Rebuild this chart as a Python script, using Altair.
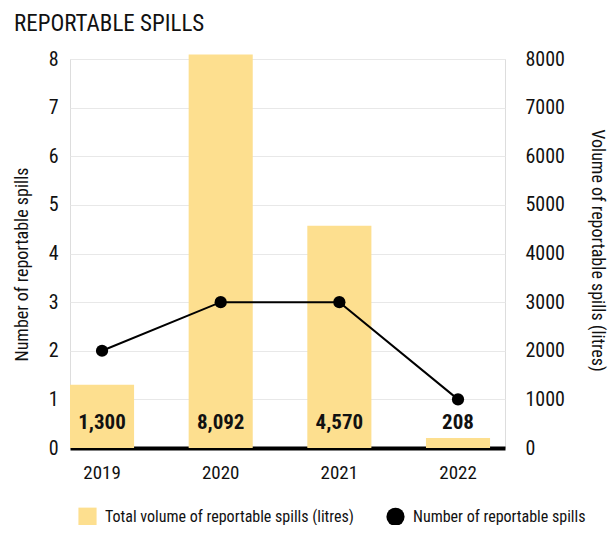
import altair as alt
import pandas as pd

years = ["2019", "2020", "2021", "2022"]
volume = [1300, 8092, 4570, 208]
spills = [2, 3, 3, 1]
series_names = ["Total volume of reportable spills (litres)", "Number of reportable spills"]
left_ticks = [0, 1, 2, 3, 4, 5, 6, 7, 8]
right_ticks = [0, 1000, 2000, 3000, 4000, 5000, 6000, 7000, 8000]

df = pd.DataFrame({
    "year": years,
    "volume": volume,
    "spills": spills,
    "vol_series": series_names[0],
    "cnt_series": series_names[1],
})

FONT = "Roboto Condensed, Liberation Sans Narrow, Arial Narrow, Roboto, sans-serif"
BAR = "#fddf8f"
TXT = "#111111"

W, H = 435, 389

x = alt.X(
    "year:N",
    scale=alt.Scale(paddingInner=0.46, paddingOuter=0.063, align=0),
    axis=alt.Axis(title=None, labelAngle=0, labelFontSize=19, labelPadding=15,
                  ticks=False, domainColor="black", domainWidth=4,
                  labelColor=TXT, labelFont=FONT),
)

color_scale = alt.Scale(domain=series_names, range=[BAR, "black"])
shape_scale = alt.Scale(domain=series_names, range=["square", "circle"])
legend = alt.Legend(title=None, orient="none", legendX=8, legendY=448,
                    direction="horizontal", labelFont=FONT, labelFontSize=16,
                    labelColor=TXT, symbolSize=330, labelOffset=8, labelLimit=400,
                    columnPadding=32, symbolStrokeWidth=0)

bars = alt.Chart(df).mark_bar().encode(
    x=x,
    y=alt.Y("volume:Q", scale=alt.Scale(domain=[0, 8000]),
            axis=alt.Axis(orient="right", title="Volume of reportable spills (litres)",
                          values=right_ticks, format="d", grid=False, ticks=False, domain=False,
                          labelFontSize=20, labelPadding=20, labelColor=TXT, labelFont=FONT,
                          titleFont=FONT, titleFontSize=18, titleFontWeight="normal",
                          titleColor=TXT, titleAngle=90, titleX=91, titleY=191,
                          titleAlign="center", titleBaseline="middle")),
    color=alt.Color("vol_series:N", scale=color_scale, legend=legend),
)

labels = alt.Chart(df).mark_text(font=FONT, fontSize=21, fontWeight="bold",
                                 color=TXT, baseline="middle").encode(
    x=x,
    y=alt.value(364),
    text=alt.Text("volume:Q", format=","),
)

bar_layer = alt.layer(bars, labels)

left_y = alt.Y("spills:Q", scale=alt.Scale(domain=[0, 8]),
               axis=alt.Axis(orient="left", title="Number of reportable spills",
                             values=left_ticks, grid=True, gridColor="#e8e8e8", gridWidth=1.2,
                             ticks=False, domain=False, labelFontSize=20, labelPadding=12,
                             labelColor=TXT, labelFont=FONT, titleFont=FONT,
                             titleFontSize=18, titleFontWeight="normal", titleColor=TXT,
                             titleAngle=270, titleX=-48, titleY=205,
                             titleAlign="center", titleBaseline="middle"))

line = alt.Chart(df).mark_line(color="black", strokeWidth=2).encode(x=x, y=left_y)
points = alt.Chart(df).mark_point(filled=True, size=150, opacity=1).encode(
    x=x,
    y=alt.Y("spills:Q"),
    color=alt.Color("cnt_series:N", scale=color_scale, legend=legend),
    shape=alt.Shape("cnt_series:N", scale=shape_scale, legend=legend),
)
count_layer = alt.layer(line, points)

chart = alt.layer(bar_layer, count_layer).resolve_scale(y="independent").properties(
    width=W, height=H,
    autosize=alt.AutoSizeParams(type="none"),
    padding={"left": 62, "top": 51, "right": 103, "bottom": 77},
    title=alt.TitleParams("REPORTABLE SPILLS", anchor="start", frame="group", dx=-56,
                          font=FONT, fontSize=23, fontWeight="normal", color=TXT,
                          offset=13),
).configure_view(stroke=None).configure(background="white")

chart.save("out.html", embed_options={"renderer": "svg", "actions": False})
